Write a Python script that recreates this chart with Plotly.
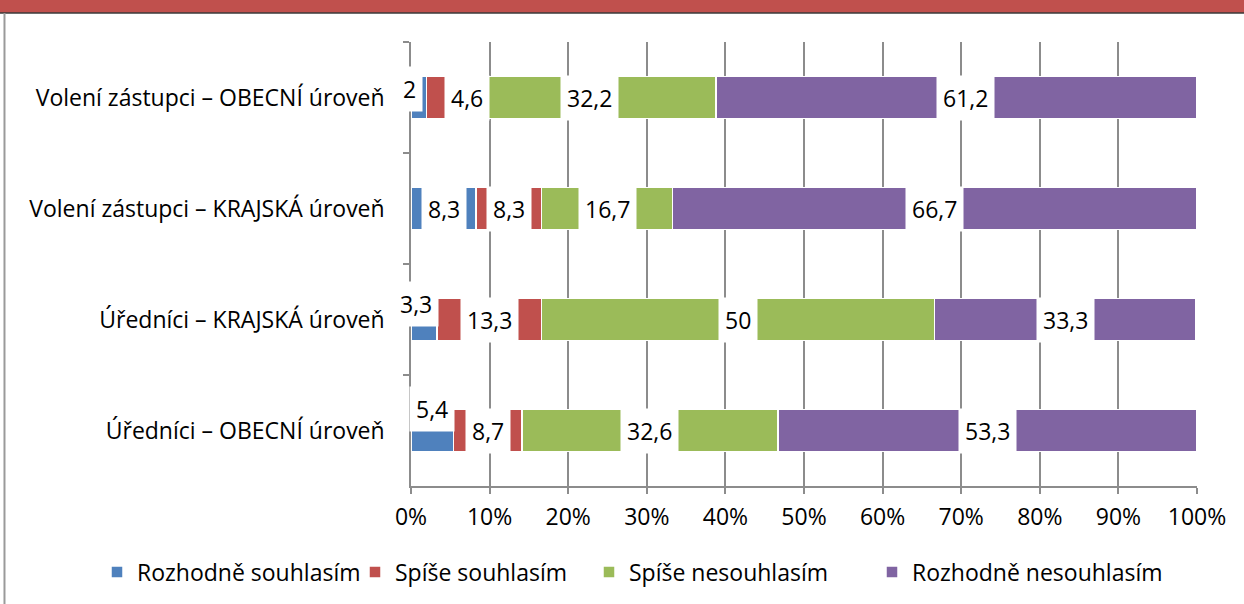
import plotly.graph_objects as go

categories = [
    "Volení zástupci – OBECNÍ úroveň",
    "Volení zástupci – KRAJSKÁ úroveň",
    "Úředníci – KRAJSKÁ úroveň",
    "Úředníci – OBECNÍ úroveň",
]
series_names = ["Rozhodně souhlasím", "Spíše souhlasím", "Spíše nesouhlasím", "Rozhodně nesouhlasím"]
rozhodne_souhlasim = [2, 8.3, 3.3, 5.4]
spise_souhlasim = [4.6, 8.3, 13.3, 8.7]
spise_nesouhlasim = [32.2, 16.7, 50, 32.6]
rozhodne_nesouhlasim = [61.2, 66.7, 33.3, 53.3]
x_tick_values = [0, 10, 20, 30, 40, 50, 60, 70, 80, 90, 100]
x_tick_labels = ["0%", "10%", "20%", "30%", "40%", "50%", "60%", "70%", "80%", "90%", "100%"]

series_values = [rozhodne_souhlasim, spise_souhlasim, spise_nesouhlasim, rozhodne_nesouhlasim]
colors = ["#4F81BD", "#C0504D", "#9BBB59", "#8064A2"]

# label offsets (pixels) for labels that Excel moved: (series index, category index) -> (dx, dy)
label_offsets = {
    (0, 0): (-9, 9),
    (1, 0): (22, 0),
    (3, 0): (9, 0),
    (0, 2): (-8, 16),
    (0, 3): (0, 22),
}
# legend entry left positions (paper x)
legend_x = [(97 - 411) / 786, (355 - 411) / 786, (589 - 411) / 786, (872 - 411) / 786]
legend_ids = ["legend", "legend2", "legend3", "legend4"]

FONT = "Open Sans"
FS = 23

fig = go.Figure()
for name, vals, col, lid in zip(series_names, series_values, colors, legend_ids):
    fig.add_trace(go.Bar(
        y=categories, x=vals, name=name, orientation="h",
        marker=dict(color=col, line=dict(color="white", width=1.5)),
        width=0.38, hoverinfo="skip", legend=lid,
    ))

def fmt(v):
    if float(v).is_integer():
        return str(int(v))
    return str(v).replace(".", ",")

annotations = []
for j, cat in enumerate(categories):
    cum = 0
    for i, vals in enumerate(series_values):
        v = vals[j]
        dx, dy = label_offsets.get((i, j), (0, 0))
        annotations.append(dict(
            x=cum + v / 2, y=cat, xref="x", yref="y", text=fmt(v),
            showarrow=False, bgcolor="white", borderpad=6,
            font=dict(family=FONT, size=FS, color="black"),
            xshift=dx, yshift=dy,
        ))
        cum += v

shapes = [
    dict(type="rect", xref="paper", yref="paper", x0=-0.6, x1=1.1,
         y0=1.0655, y1=1.1, fillcolor="#C0504D", line=dict(width=0), layer="above"),
    dict(type="line", xref="paper", yref="paper", x0=-0.6, x1=1.1,
         y0=1.0655, y1=1.0655, line=dict(color="#3a3a3a", width=1.5), layer="above"),
    dict(type="line", xref="paper", yref="paper", x0=-0.5172, x1=-0.5172,
         y0=1.0655, y1=-0.3, line=dict(color="#9a9a9a", width=2), layer="above"),
]

legend_common = dict(orientation="h", xanchor="left", y=-0.191, yanchor="middle",
                     font=dict(family=FONT, size=FS, color="black"),
                     itemclick=False, bgcolor="rgba(0,0,0,0)")
legends = {lid: dict(legend_common, x=lx) for lid, lx in zip(legend_ids, legend_x)}

fig.update_layout(
    width=1244, height=604,
    margin=dict(l=411, r=47, t=42, b=117),
    barmode="stack",
    paper_bgcolor="white", plot_bgcolor="white",
    font=dict(family=FONT, size=FS, color="black"),
    showlegend=True,
    annotations=annotations,
    shapes=shapes,
    xaxis=dict(range=[0, 100], tickvals=x_tick_values, ticktext=x_tick_labels,
               showgrid=True, gridcolor="#8c8c8c", gridwidth=1.5,
               showline=True, linecolor="#8c8c8c", linewidth=1.5,
               ticks="outside", ticklen=6, tickcolor="#8c8c8c", tickwidth=1.5,
               ticklabelstandoff=4,
               zeroline=False, tickfont=dict(family=FONT, size=FS, color="black")),
    yaxis=dict(type="category", categoryorder="array", categoryarray=categories,
               autorange="reversed", tickson="boundaries",
               showgrid=False, showline=True, linecolor="#8c8c8c", linewidth=1.5,
               ticks="outside", ticklen=6, tickcolor="#8c8c8c", tickwidth=1.5,
               ticklabelstandoff=20,
               tickfont=dict(family=FONT, size=FS, color="black")),
    **legends,
)

fig.write_html("out.html", config={"displayModeBar": False},
               post_script="document.body.style.margin='0';")
